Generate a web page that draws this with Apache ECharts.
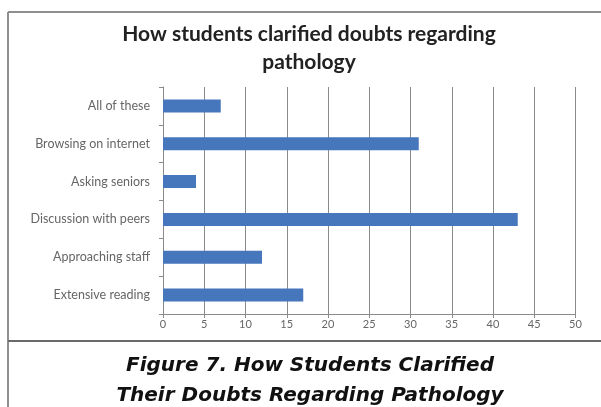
<!DOCTYPE html>
<html>
<head>
<meta charset="utf-8">
<script src="https://cdn.jsdelivr.net/npm/echarts@6/dist/echarts.min.js"></script>
<style>
html,body{margin:0;padding:0;background:#fff;}
#chart{width:601px;height:407px;}
</style>
</head>
<body>
<div id="chart"></div>
<script>
// Data (top to bottom as drawn)
var categories = ["All of these", "Browsing on internet", "Asking seniors", "Discussion with peers", "Approaching staff", "Extensive reading"];
var values = [7, 31, 4, 43, 12, 17];
var xTicks = [0, 5, 10, 15, 20, 25, 30, 35, 40, 45, 50];
var chartTitle = "How students clarified doubts regarding\npathology";
var caption = "Figure 7. How Students Clarified\nTheir Doubts Regarding Pathology";

// category axis is drawn bottom-up, so reverse
var catsAxis = categories.slice().reverse();
var valsAxis = values.slice().reverse();

var chart = echarts.init(document.getElementById('chart'), null, {renderer: 'canvas'});
chart.setOption({
  backgroundColor: '#fff',
  animation: false,
  title: [{
    text: chartTitle,
    left: 304, top: 15, textAlign: 'center',
    textStyle: {fontFamily: 'Lato', fontWeight: 'bold', fontSize: 21, color: '#222', lineHeight: 28, align: 'center'}
  }, {
    text: caption,
    left: 305, top: 346, textAlign: 'center',
    textStyle: {fontFamily: 'DejaVu Sans', fontWeight: 'bold', fontStyle: 'italic', fontSize: 20, color: '#111', lineHeight: 30, align: 'center'}
  }],
  grid: {left: 163, right: 25.5, top: 87, bottom: 93, containLabel: false},
  xAxis: {
    type: 'value', min: xTicks[0], max: xTicks[xTicks.length - 1], interval: 5,
    axisLine: {show: true, lineStyle: {color: '#8a8a8a', width: 1}},
    axisTick: {show: true, length: 4, lineStyle: {color: '#8a8a8a'}},
    axisLabel: {color: '#666', fontFamily: 'Lato', fontSize: 11, margin: 5},
    splitLine: {show: true, lineStyle: {color: '#8a8a8a', width: 1}}
  },
  yAxis: {
    type: 'category', data: catsAxis,
    axisLine: {show: true, lineStyle: {color: '#8a8a8a', width: 1}},
    axisTick: {show: true, length: 4, lineStyle: {color: '#8a8a8a'}},
    axisLabel: {color: '#666', fontFamily: 'Lato', fontSize: 12.5, margin: 13}
  },
  series: [{
    type: 'bar', data: valsAxis, barWidth: 13,
    itemStyle: {color: '#4676bb'}
  }],
  graphic: [
    {type: 'line', shape: {x1: 8, y1: 12, x2: 601, y2: 12}, style: {stroke: '#8f8f8f', lineWidth: 2}},
    {type: 'line', shape: {x1: 8, y1: 12, x2: 8, y2: 407}, style: {stroke: '#8f8f8f', lineWidth: 2}},
    {type: 'line', shape: {x1: 8, y1: 341, x2: 601, y2: 341}, style: {stroke: '#6a6a6a', lineWidth: 2}}
  ]
});
</script>
</body>
</html>
